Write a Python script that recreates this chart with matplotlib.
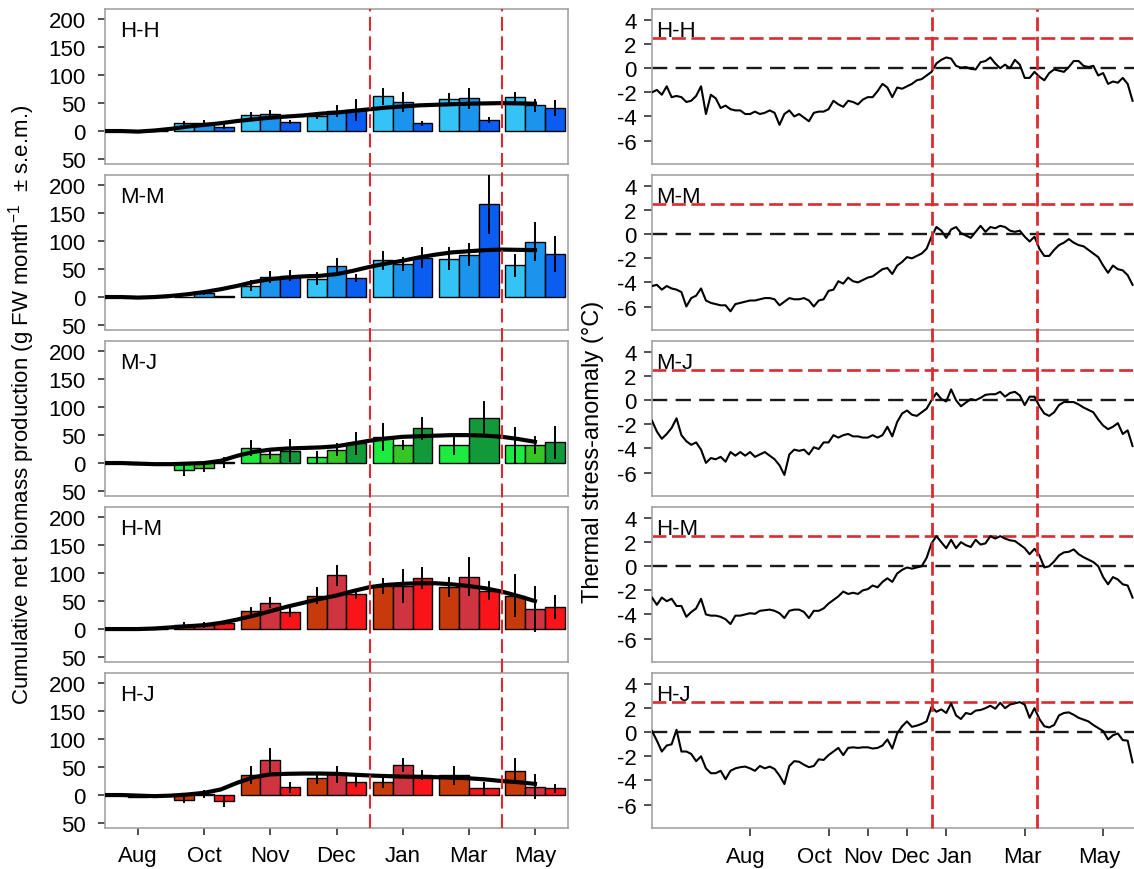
import numpy as np
import matplotlib
matplotlib.use('Agg')
import matplotlib.pyplot as plt
from matplotlib.lines import Line2D
from matplotlib import transforms

plt.rcParams['font.family'] = ['Liberation Sans', 'DejaVu Sans']
plt.rcParams['mathtext.fontset'] = 'custom'
plt.rcParams['mathtext.rm'] = 'Liberation Sans'
plt.rcParams['mathtext.it'] = 'Liberation Sans:italic'
plt.rcParams['axes.unicode_minus'] = False
plt.rcParams['lines.scale_dashes'] = False

sites = ['H-H', 'M-M', 'M-J', 'H-M', 'H-J']
bar_months = ['Aug', 'Oct', 'Nov', 'Dec', 'Jan', 'Mar', 'May']
nan = np.nan

# ---- left column: monthly biomass production, 3 treatments per month (mean, s.e.m.)
hh_mean = [[0, 14, 28, 27, 62, 57, 61],
           [0, 15, 30, 36, 52, 59, 46],
           [0, 8, 16, 38, 14, 20, 41]]
hh_sem = [[0, 3, 4, 4, 14, 9, 7],
          [0, 3, 5, 9, 16, 17, 10],
          [0, 2, 2, 18, 3, 3, 12]]

mm_mean = [[0, 0, 20, 33, 66, 69, 57],
           [0, 7, 36, 55, 59, 76, 99],
           [0, 1, 38, 34, 70, 166, 77]]
mm_sem = [[0, 0, 8, 10, 15, 18, 19],
          [0, 2, 9, 13, 11, 19, 33],
          [0, 0, 8, 5, 17, 52, 31]]

mj_mean = [[0, -13, 27, 11, 47, 32, 32],
           [-1, -9, 17, 24, 33, nan, 32],
           [-2, 1, 22, 35, 62, 80, 37]]
mj_sem = [[0, 8, 13, 9, 23, 16, 30],
          [0, 6, 8, 10, 7, nan, 14],
          [0, 8, 19, 18, 19, 30, 28]]

hm_mean = [[0, 7, 33, 60, 77, 75, 60],
           [0, 7, 47, 96, 77, 94, 36],
           [0, 11, 31, 63, 91, 69, 40]]
hm_sem = [[0, 3, 4, 13, 13, 16, 36],
          [0, 3, 8, 17, 29, 33, 40],
          [0, 2, 7, 7, 18, 15, 20]]

hj_mean = [[0, -9, 36, 30, 24, 35, 43],
           [-3, 2, 63, 37, 54, nan, 15],
           [0, -10, 14, 24, 36, 12, 12]]
hj_sem = [[0, 3, 14, 9, 10, 16, 22],
          [0, 5, 20, 13, 11, nan, 20],
          [0, 9, 8, 8, 7, 10, 6]]

# fitted cumulative curves, sampled every quarter month from -0.5 to 6
curve_x = [-0.5, -0.25, 0, 0.25, 0.5, 0.75, 1, 1.25, 1.5, 1.75, 2, 2.25, 2.5, 2.75,
           3, 3.25, 3.5, 3.75, 4, 4.25, 4.5, 4.75, 5, 5.25, 5.5, 5.75, 6]
hh_curve = [0, 0, -1, 1, 4, 8, 11, 14, 18, 21, 24, 26, 28, 31,
            33, 36, 39, 42, 44, 46, 47, 48, 49, 49.5, 50, 49.5, 49]
mm_curve = [0, 0, -1, 0, 2, 5, 9, 14, 20, 27, 32, 35, 37, 38,
            41, 47, 54, 60, 65, 71, 76, 80, 82, 84, 85, 84.5, 84]
mj_curve = [0, 0, -1, -2, -2, -1, 0, 4, 13, 20, 24, 26, 27, 28,
            30, 35, 40, 44, 47, 48, 49, 50, 50, 49, 47, 43, 38]
hm_curve = [0, 0, 0, 1, 3, 5, 7, 11, 17, 24, 32, 40, 47, 54,
            60, 68, 75, 79, 81, 82, 82, 80, 77, 73, 67, 59, 50]
hj_curve = [0, 0, -1, -2, -1, 1, 4, 10, 22, 32, 37, 38, 38.5, 38.5,
            38, 36.5, 35, 34, 33, 32.5, 32, 31, 30, 28, 25, 23, 20]

# ---- right column: thermal stress anomaly, one value every 1/8 month from mid-May
anom_x = np.arange(99) * 0.125 - 2.5
anom_ticks = [0, 2, 3, 4, 5, 7, 9]
hh_anom = [-2.0, -1.8, -2.2, -1.5, -2.4, -2.3, -2.4, -2.8, -2.7, -2.3,
           -1.5, -3.8, -2.2, -2.5, -3.3, -3.1, -3.4, -3.5, -3.5, -3.8,
           -3.8, -3.6, -3.8, -3.7, -3.5, -3.7, -4.7, -3.8, -3.5, -4.0,
           -3.8, -4.1, -4.4, -3.7, -3.6, -3.6, -3.4, -2.7, -3.0, -3.2,
           -2.7, -2.8, -3.0, -2.6, -2.4, -2.4, -1.9, -1.3, -1.6, -2.4,
           -1.6, -1.7, -1.5, -1.3, -1.0, -0.9, -0.6, -0.3, 0.4, 0.7,
           0.9, 0.8, 0.2, 0.05, 0.1, -0.05, -0.1, 0.5, 0.6, 0.9,
           0.4, 0.0, 0.3, 0.0, 0.7, 0.3, -0.8, -0.8, -0.3, -0.7,
           -1.0, -0.4, -0.1, -0.2, -0.3, 0.1, 0.6, 0.6, 0.2, 0.1,
           0.2, -0.6, -0.4, -1.3, -1.1, -1.2, -0.8, -1.3, -2.7]
mm_anom = [-4.3, -4.2, -4.6, -4.3, -4.5, -4.6, -4.8, -6.0, -5.3, -5.1,
           -4.5, -5.5, -5.7, -5.8, -5.9, -5.9, -6.4, -5.8, -5.7, -5.6,
           -5.5, -5.5, -5.4, -5.3, -5.3, -5.4, -5.9, -5.6, -5.3, -5.4,
           -5.4, -5.3, -5.5, -6.0, -5.5, -5.4, -4.7, -4.6, -3.9, -4.1,
           -3.6, -3.9, -4.0, -3.8, -3.6, -3.5, -3.2, -2.9, -2.8, -3.3,
           -2.6, -2.3, -1.9, -2.0, -1.8, -1.6, -1.2, -0.2, 0.6, 0.3,
           -0.3, 0.4, 0.6, 0.1, -0.1, -0.3, 0.2, 0.7, 0.2, 0.6,
           0.5, 0.7, 0.6, 0.3, 0.2, 0.3, -0.2, -0.6, -0.2, -1.2,
           -1.8, -1.8, -1.3, -0.9, -0.7, -0.4, -0.7, -0.9, -1.0, -1.3,
           -1.6, -1.9, -2.6, -3.2, -2.6, -2.9, -3.0, -3.4, -4.2]
mj_anom = [-1.7, -2.6, -3.2, -2.8, -2.3, -1.5, -2.9, -3.4, -3.7, -3.5,
           -4.1, -5.2, -4.8, -4.9, -4.7, -5.1, -4.3, -4.6, -4.3, -4.6,
           -4.3, -4.7, -4.5, -4.3, -4.6, -4.9, -5.4, -6.2, -4.5, -4.1,
           -4.2, -4.1, -4.5, -3.9, -4.05, -3.5, -3.5, -2.9, -3.1, -2.9,
           -2.8, -3.0, -3.0, -3.1, -3.1, -2.9, -3.1, -2.9, -2.2, -3.0,
           -1.8, -1.1, -0.85, -1.2, -1.3, -1.0, -0.7, 0.0, 0.6, 0.1,
           -0.1, 0.9, 0.0, -0.5, -0.2, 0.1, 0.0, 0.2, 0.45, 0.5,
           0.5, 0.7, 0.3, 0.6, 0.7, 0.4, -0.4, 0.3, 0.3, -0.5,
           -1.1, -1.3, -1.0, -0.4, -0.15, -0.15, -0.15, -0.35, -0.6, -0.8,
           -1.0, -1.6, -2.1, -2.4, -2.2, -1.9, -2.8, -2.5, -3.8]
hm_anom = [-2.6, -3.2, -2.6, -2.9, -2.7, -3.3, -3.3, -4.2, -3.8, -3.5,
           -2.7, -4.0, -4.1, -4.1, -4.2, -4.4, -4.8, -4.1, -4.1, -4.0,
           -3.9, -3.95, -3.7, -3.65, -3.6, -3.7, -3.9, -4.3, -3.7, -3.6,
           -3.6, -3.8, -4.3, -3.7, -3.7, -3.5, -3.1, -2.8, -2.5, -2.1,
           -2.3, -2.2, -2.3, -2.0, -1.9, -1.6, -1.75, -1.3, -1.0, -1.3,
           -0.6, -0.3, -0.1, -0.2, -0.1, 0.0, 0.7, 1.9, 2.5, 2.0,
           1.5, 2.2, 1.5, 2.0, 1.75, 1.6, 2.2, 1.8, 1.9, 2.5,
           2.3, 2.5, 2.3, 2.15, 2.1, 1.8, 1.5, 1.0, 1.45, 0.9,
           -0.1, 0.0, 0.4, 0.9, 1.15, 1.2, 1.4, 1.0, 0.75, 0.55,
           0.35, 0.0, -0.9, -1.5, -0.9, -1.1, -1.5, -1.6, -2.6]
hj_anom = [0.1, -0.7, -1.6, -1.1, -1.0, 0.2, -1.6, -1.6, -1.8, -2.4,
           -2.0, -3.0, -3.4, -3.4, -3.2, -3.9, -3.2, -3.0, -2.9, -2.85,
           -3.0, -3.2, -2.8, -3.0, -2.85, -3.05, -3.6, -4.3, -2.8, -2.4,
           -2.45, -2.7, -2.9, -2.8, -2.25, -2.3, -1.9, -1.6, -1.3, -1.9,
           -1.3, -1.25, -1.3, -1.25, -1.25, -1.35, -1.3, -1.1, -0.6, -1.35,
           -0.1, 0.5, 0.9, 0.45, 0.55, 0.7, 0.9, 2.1, 1.7, 1.9,
           1.6, 2.4, 1.4, 1.1, 1.6, 1.5, 1.8, 1.85, 2.0, 2.2,
           1.95, 2.45, 2.0, 2.3, 2.4, 2.5, 2.3, 1.2, 2.0, 1.1,
           0.5, 0.4, 0.6, 1.4, 1.6, 1.65, 1.45, 1.2, 1.05, 0.9,
           0.6, 0.35, 0.1, -0.6, -0.25, -0.1, -0.65, -0.7, -2.5]

# heatwave window (red dashed lines) and threshold
bar_heat = [3.5, 5.5]
anom_heat = [4.63, 7.32]
threshold = 2.5

means = [hh_mean, mm_mean, mj_mean, hm_mean, hj_mean]
sems = [hh_sem, mm_sem, mj_sem, hm_sem, hj_sem]
curves = [hh_curve, mm_curve, mj_curve, hm_curve, hj_curve]
anoms = [hh_anom, mm_anom, mj_anom, hm_anom, hj_anom]

blues = ['#35C3F5', '#1B94EE', '#0A5DF0']
greens = ['#1EEB40', '#36C626', '#129A3A']
reds = ['#C73A0C', '#CF3540', '#F81418']
palettes = [blues, blues, greens, reds, reds]

red = '#DC2A2E'
spine_col = '#A3A3A3'

W, H = 1134, 870
tops = [10, 176, 342, 508, 674]
ph = 155
# small horizontal nudges (px) of the right-hand month labels, as in the original
anom_label_shift = [-4, -14, -5, 3, 8, -2, -4]


def rect(x, top, w, h):
    return [x / W, 1 - (top + h) / H, w / W, h / H]


fig = plt.figure(figsize=(W / 100, H / 100), dpi=100)

left_axes = []
right_axes = []
for i, site in enumerate(sites):
    # left: bars
    ax = fig.add_axes(rect(105, tops[i], 463, ph))
    left_axes.append(ax)
    m, s, cols = means[i], sems[i], palettes[i]
    for g in range(len(bar_months)):
        present = [j for j in range(3) if not np.isnan(m[j][g])]
        if len(present) == 3:
            offs, bw = [-0.3, 0, 0.3], 0.3
        else:
            offs, bw = [-0.225, 0.225], 0.45
        for j, off in zip(present, offs):
            ax.bar(g + off, m[j][g], width=bw, color=cols[j], edgecolor='black',
                   linewidth=1.0, zorder=2)
            if s[j][g] > 0:
                ax.plot([g + off, g + off], [m[j][g] - s[j][g], m[j][g] + s[j][g]],
                        color='black', lw=1.4, zorder=3)
    ax.plot(curve_x, curves[i], color='black', lw=3, zorder=4)
    ax.set_xlim(-0.5, 6.5)
    ax.set_ylim(-59, 218.5)
    ax.set_yticks([-50, 0, 50, 100, 150, 200])
    ax.set_yticklabels(['50', '0', '50', '100', '150', '200'])
    ax.tick_params(axis='y', length=5, width=1.2, pad=9, labelsize=16, color='#333333')
    if i < 4:
        ax.set_xticks([])
    else:
        ax.set_xticks(range(len(bar_months)))
        ax.set_xticklabels(bar_months)
        ax.tick_params(axis='x', length=5, width=1.2, pad=7, labelsize=16, color='#333333')
    for sp in ax.spines.values():
        sp.set_color(spine_col)
        sp.set_linewidth(1.2)
    ax.text(0.032, 0.93, site, transform=ax.transAxes, va='top', ha='left', fontsize=16)

    # right: thermal anomaly
    ax2 = fig.add_axes(rect(652, tops[i], 528, ph))
    right_axes.append(ax2)
    ax2.axhline(0, color='#1a1a1a', lw=1.7, dashes=(11, 6), zorder=1)
    ax2.axhline(threshold, color=red, lw=1.9, dashes=(10, 4), zorder=1)
    ax2.plot(anom_x, anoms[i], color='black', lw=1.5, zorder=3)
    ax2.set_xlim(-2.5, -2.5 + 528 / 39.23)
    ax2.set_ylim(-7.95, 4.92)
    ax2.set_yticks([-6, -4, -2, 0, 2, 4])
    ax2.tick_params(axis='y', length=6, width=1.2, pad=5, labelsize=16, color='#333333')
    if i < 4:
        ax2.set_xticks([])
    else:
        ax2.set_xticks(anom_ticks)
        ax2.set_xticklabels(bar_months)
        ax2.tick_params(axis='x', length=6, width=1.2, pad=7, labelsize=16, color='#333333')
        for lab, dx in zip(ax2.get_xticklabels(), anom_label_shift):
            lab.set_transform(lab.get_transform() +
                              transforms.ScaledTranslation(dx / 100, 0, fig.dpi_scale_trans))
    for sp in ax2.spines.values():
        sp.set_color(spine_col)
        sp.set_linewidth(1.2)
    ax2.text(0.008, 0.93, site, transform=ax2.transAxes, va='top', ha='left', fontsize=16)

# red dashed vertical lines running through each column
y_lo = 1 - (tops[-1] + ph) / H
y_hi = 1 - tops[0] / H
for ax, xs, lw in [(left_axes[0], bar_heat, 1.5), (right_axes[0], anom_heat, 2.0)]:
    tr = transforms.blended_transform_factory(ax.transData, fig.transFigure)
    for xv in xs:
        fig.add_artist(Line2D([xv, xv], [y_lo, y_hi], transform=tr, color=red,
                              lw=lw, dashes=(10, 4), zorder=5))

fig.text(22 / W, 1 - 405 / H,
         'Cumulative net biomass production (g FW month$^{-1}$  \u00b1 s.e.m.)',
         rotation=90, ha='center', va='center', fontsize=16)
fig.text(593 / W, 1 - 452 / H, 'Thermal stress-anomaly (\u00b0C)',
         rotation=90, ha='center', va='center', fontsize=17)

fig.savefig('out.png', dpi=100)
